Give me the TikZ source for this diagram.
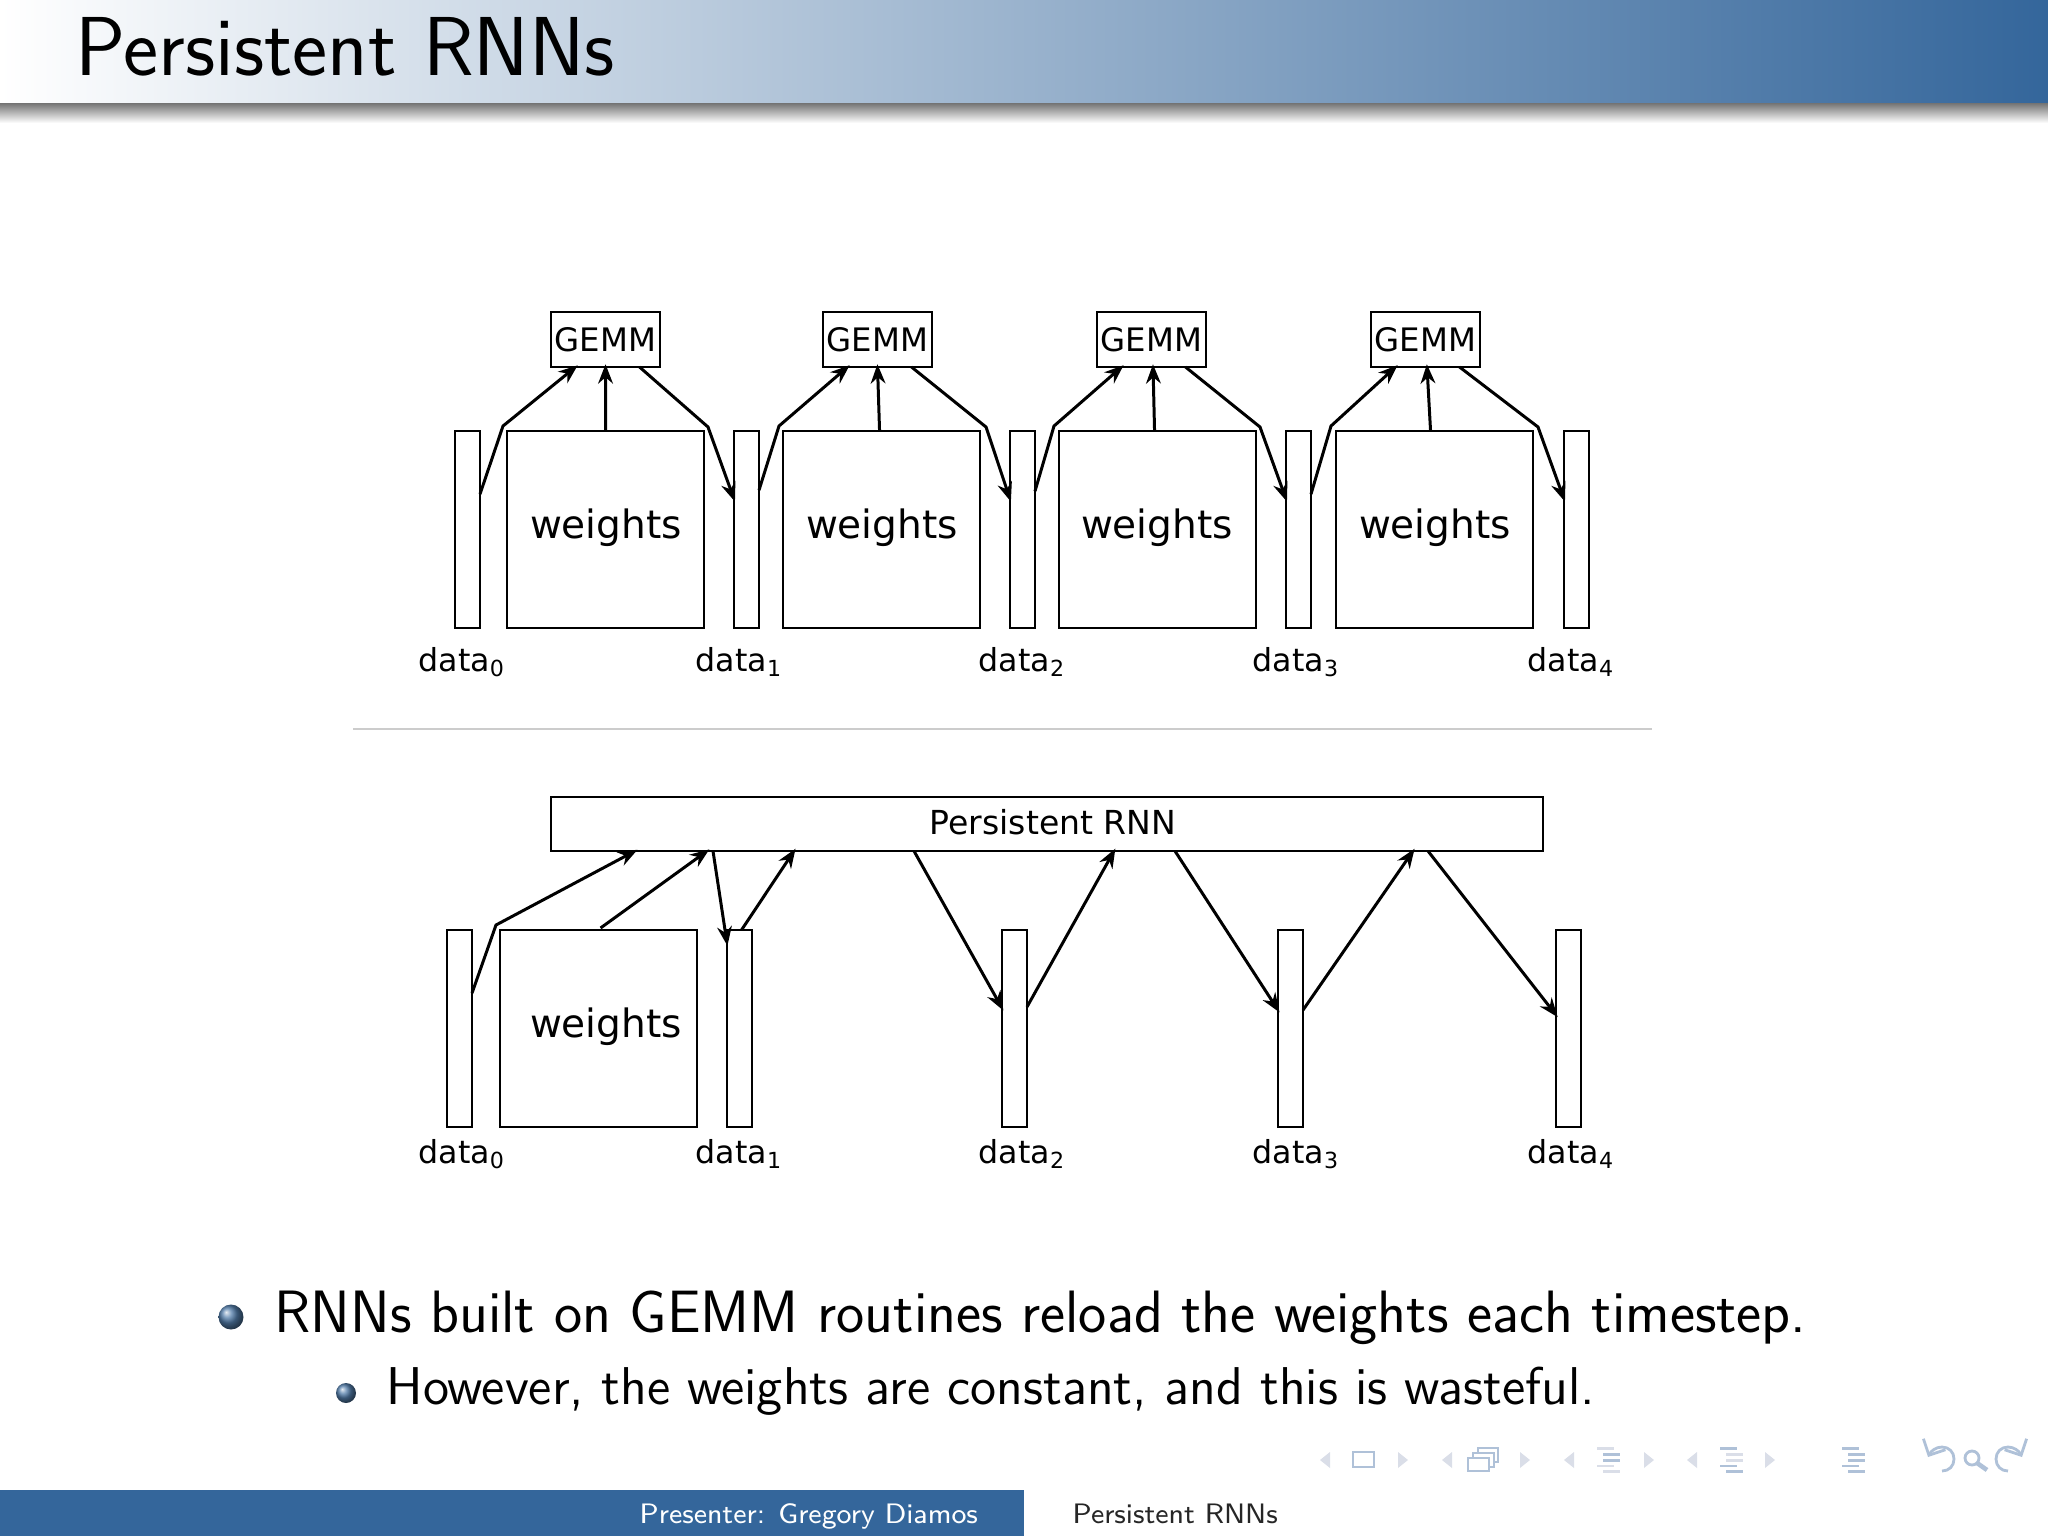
\documentclass[tikz,border=0pt]{standalone}
\usepackage{fontspec}
\newfontfamily\figfont{DejaVu Sans}
\usetikzlibrary{arrows.meta,calc,shadings}
\definecolor{slideblue}{HTML}{34669B}
\definecolor{navpale}{HTML}{DADEE8}
\definecolor{navdark}{HTML}{AFC1D8}
\newcommand{\datalabel}[1]{\figfont data\raisebox{-1.7pt}{\fontsize{6.3}{7}\selectfont #1}}
\tikzset{
  box/.style={draw,line width=0.55pt,inner sep=0pt,outer sep=0pt,anchor=north west},
  databar/.style={box,minimum width=0.25cm,minimum height=1.97cm},
  weightbox/.style={box,minimum width=1.97cm,minimum height=1.97cm},
  gemmbox/.style={box,minimum width=1.09cm,minimum height=0.55cm,font=\figfont\fontsize{9.2}{11}\selectfont},
  datatext/.style={anchor=base west,inner sep=0pt,font=\fontsize{9}{11}\selectfont},
  weighttext/.style={inner sep=0pt,font=\figfont\fontsize{11.1}{13}\selectfont},
  conn/.style={line width=0.85pt,shorten >=-0.8pt},
  navarc/.style={navdark,line width=0.8pt,-{Straight Barb[length=3.5pt,width=7pt]}},
}
\begin{document}
\begin{tikzpicture}[x=0.01cm,y=-0.01cm,>={Stealth[length=5.5pt,width=4.2pt]}]
\useasboundingbox (0,0) rectangle (2048,1536);
% header
\shade[left color=white,right color=slideblue] (0,0) rectangle (2048,103);
\shade[top color=black!55,bottom color=white] (0,103) rectangle (2048,123);
\node[anchor=base west,inner sep=0pt,font=\sffamily\fontsize{23.8}{29}\selectfont] (title) at (75,75) {Persistent RNNs};
% upper diagram
\foreach \n/\xa in {0/455,1/734,2/1010,3/1286,4/1564}
  \node[databar] (top\n) at (\xa,431) {};
\foreach \n/\xa in {0/507,1/783,2/1059,3/1336}
  \node[weightbox] (wtop\n) at (\xa,431) {};
\foreach \n/\xa in {0/606,1/882,2/1157,3/1435}
  \node[weighttext,anchor=base] (wtext\n) at (\xa,538) {weights};
\foreach \n/\xa in {0/551,1/823,2/1097,3/1371}
  \node[gemmbox] (gemm\n) at (\xa,312) {GEMM};
\foreach \n/\xa in {0/418,1/695,2/978,3/1252,4/1527}
  \node[datatext] (ltop\n) at (\xa,671) {\datalabel{\n}};
\foreach \i/\xk/\fr/\dw/\dg in {0/503/.32/0/0,1/779/.30/-2/0,2/1054/.305/-3/1.5,3/1331/.32/-4/1.5}{
  \coordinate (upk\i) at (\xk,426);
  \draw[conn,->] ($(top\i.north east)!\fr!(top\i.south east)$) -- (upk\i) -- ($(gemm\i.south)+(-30,0)$);
  \draw[conn,->] ($(wtop\i.north)+(\dw,0)$) -- ($(gemm\i.south)+(\dg,0)$);
}
\foreach \i/\j/\xk in {0/1/708,1/2/986,2/3/1260,3/4/1538}{
  \coordinate (dnk\i) at (\xk,427);
  \draw[conn,->] ($(gemm\i.south)+(34,0)$) -- (dnk\i) -- ($(top\j.north west)!.345!(top\j.south west)$);
}
% divider
\draw[line width=0.4pt,black!20] (353,729) -- (1652,729);
% lower diagram
\node[box,minimum width=9.91cm,minimum height=0.54cm] (rnn) at (551,797) {};
\node[inner sep=0pt,anchor=base,font=\figfont\fontsize{9.4}{11}\selectfont] (rnntext) at (1053,834) {Persistent RNN};
\foreach \n/\xa in {0/447,1/727,2/1002,3/1278,4/1556}
  \node[databar] (bot\n) at (\xa,930) {};
\node[weightbox] (wbot) at (500,930) {};
\node[weighttext,anchor=base] (wbottext) at (606,1037) {weights};
\foreach \n/\xa in {0/418,1/695,2/978,3/1252,4/1527}
  \node[datatext] (lbot\n) at (\xa,1163) {\datalabel{\n}};
\coordinate (upb) at (496,925);
\draw[conn,->] ($(bot0.north east)!.32!(bot0.south east)$) -- (upb) -- ($(rnn.south west)+(84,0)$);
\draw[conn,->] ($(wbot.north)+(2,-2)$) -- ($(rnn.south west)+(156,0)$);
\draw[conn,->] ($(rnn.south west)+(162,0)$) -- ($(bot1.north west)!.066!(bot1.south west)$);
\draw[conn,->] ($(bot1.north)+(2,0)$) -- ($(rnn.south west)+(243,0)$);
\foreach \i/\fr/\dx in {2/.396/363,3/.406/624,4/.431/877}
  \draw[conn,->] ($(rnn.south west)+(\dx,0)$) -- ($(bot\i.north west)!\fr!(bot\i.south west)$);
\foreach \i/\fr/\dx in {2/.39/563,3/.406/862}
  \draw[conn,->] ($(bot\i.north east)!\fr!(bot\i.south east)$) -- ($(rnn.south west)+(\dx,0)$);
% bullets
\shade[ball color=slideblue!85!white] (231,1317) circle [radius=12.5];
\node[anchor=base west,inner sep=0pt,font=\sffamily\fontsize{17}{20}\selectfont] (itema) at (274,1332) {RNNs built on GEMM routines reload the weights each timestep.};
\shade[ball color=slideblue!85!white] (346,1393) circle [radius=10];
\node[anchor=base west,inner sep=0pt,font=\sffamily\fontsize{15.13}{18}\selectfont] (itemb) at (386,1404) {However, the weights are constant, and this is wasteful.};
% navigation symbols
\foreach \xa in {1320,1442,1564,1687}
  \fill[navpale] (\xa,1460) -- (\xa+10,1452) -- (\xa+10,1468) -- cycle;
\foreach \xa in {1398,1520,1644,1765}
  \fill[navpale] (\xa,1452) -- (\xa+10,1460) -- (\xa,1468) -- cycle;
\draw[navdark,line width=0.7pt] (1353,1452) rectangle (1374,1467);
\draw[navdark,line width=0.5pt] (1478,1448) rectangle (1498,1462);
\draw[navdark,line width=0.5pt,fill=white] (1473,1453) rectangle (1494,1467);
\draw[navdark,line width=0.7pt,fill=white] (1468,1458) rectangle (1489,1471);
\foreach \xa/\ca/\cb in {1597/navpale/navdark,1720/navdark/navpale,1842/navdark/navdark}{
  \fill[\ca] (\xa,1447) rectangle (\xa+17,1449.5);
  \fill[\cb] (\xa+6,1453) rectangle (\xa+23,1456);
  \fill[\cb] (\xa+6,1458.5) rectangle (\xa+23,1461.5);
  \fill[\ca] (\xa,1464.5) rectangle (\xa+17,1467);
  \fill[\ca] (\xa+6,1470) rectangle (\xa+23,1473);
}
\draw[navarc] (1942,1471) .. controls (1949,1471) and (1954,1466) .. (1954,1459) .. controls (1954,1452) and (1949,1447) .. (1942,1447) .. controls (1936,1447) and (1931,1451) .. (1928,1457);
\draw[navdark,line width=0.8pt] (1972,1458) circle [radius=7];
\draw[navdark,line width=1.3pt] (1977,1463) -- (1987,1470);
\draw[navarc] (2008,1471) .. controls (2001,1471) and (1996,1466) .. (1996,1459) .. controls (1996,1452) and (2001,1447) .. (2008,1447) .. controls (2014,1447) and (2019,1451) .. (2022,1457);
% footer
\fill[slideblue] (0,1490) rectangle (1024,1536);
\node[anchor=base west,inner sep=0pt,text=white,font=\sffamily\fontsize{8}{10}\selectfont] (presenter) at (639,1523) {Presenter: Gregory Diamos};
\node[anchor=base west,inner sep=0pt,text=black!85,font=\sffamily\fontsize{8}{10}\selectfont] (foottitle) at (1072,1523) {Persistent RNNs};
\end{tikzpicture}
\end{document}
